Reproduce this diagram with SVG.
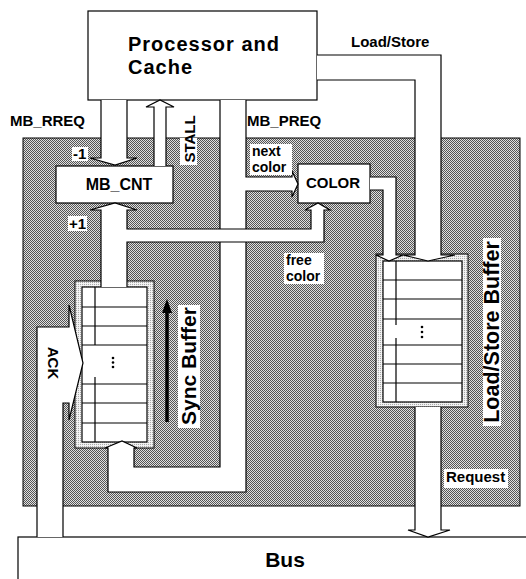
<svg xmlns="http://www.w3.org/2000/svg" width="526" height="579" viewBox="0 0 526 579">
<defs>
<pattern id="shade" width="2" height="2" patternUnits="userSpaceOnUse"><rect width="2" height="2" fill="#e0e0e0"/><rect width="1" height="1" fill="#555"/><rect x="1" y="1" width="1" height="1" fill="#555"/></pattern>
<pattern id="light" width="2" height="2" patternUnits="userSpaceOnUse"><rect width="2" height="2" fill="#f2f2f2"/><rect width="1" height="1" fill="#a8a8a8"/></pattern>
<style>
.box{fill:#fff;stroke:#000;stroke-width:1.2}
.ch{fill:#fff;stroke:#000;stroke-width:1.2;stroke-linejoin:miter}
.ln{fill:none;stroke:#000;stroke-width:1.2}
.frame{fill:url(#light);stroke:#000;stroke-width:1}
.t{font-family:"Liberation Sans",Arial,Helvetica,sans-serif;font-weight:bold;fill:#000}
.s{font-size:15px}
.m{font-size:14px}
.bg{fill:#fff}
.dot{fill:#000}
</style>
</defs>
<rect width="526" height="579" fill="#fff"/>
<g id="region"><rect x="23" y="138" width="497" height="368" fill="url(#shade)" stroke="#000" stroke-width="1"/></g>

<g id="processor"><rect class="box" x="88" y="11" width="229" height="89"/><text class="t" x="128" y="51" font-size="20" letter-spacing="1">Processor and</text><text class="t" x="128" y="74" font-size="20" letter-spacing="1">Cache</text></g>

<g id="bus"><rect class="box" x="18" y="537" width="530" height="60"/><text class="t" x="285" y="567" font-size="21" text-anchor="middle">Bus</text></g>

<g id="mb_cnt"><rect class="box" x="56" y="166" width="117" height="37"/><text class="t" x="119" y="190" font-size="16" text-anchor="middle">MB_CNT</text></g>

<g id="color"><rect class="box" x="298" y="164" width="72" height="39"/><text class="t s" x="333" y="188" text-anchor="middle">COLOR</text></g>

<g id="sync_buffer">
<rect class="frame" x="75" y="281" width="79" height="167"/>
<rect class="box" x="82" y="287" width="65" height="155"/>
<path class="ln" d="M82,307H147M82,326H147M82,345H147M82,384H147M82,403H147M82,423H147M95,287V345M95,377V442"/>
<circle class="dot" cx="113" cy="358" r="1.3"/><circle class="dot" cx="113" cy="362.5" r="1.3"/><circle class="dot" cx="113" cy="367" r="1.3"/>
<rect class="bg" x="178" y="305" width="22" height="123"/>
<text class="t" transform="translate(196,366) rotate(-90)" font-size="21" text-anchor="middle">Sync Buffer</text>
<path d="M167,422V310" stroke="#000" stroke-width="3.5" fill="none"/>
<polygon points="162,313 172,313 167,299" fill="#000"/>
</g>

<g id="ls_buffer">
<rect class="frame" x="376" y="254" width="92" height="153"/>
<rect class="box" x="383" y="261" width="79" height="141"/>
<path class="ln" d="M383,280H462M383,299H462M383,319H462M383,345H462M383,364H462M383,383H462M396,261V325M396,338V402"/>
<circle class="dot" cx="422" cy="327" r="1.3"/><circle class="dot" cx="422" cy="332" r="1.3"/><circle class="dot" cx="422" cy="337" r="1.3"/>
<rect class="bg" x="483" y="238" width="18" height="188"/>
<text class="t" transform="translate(499,332) rotate(-90)" font-size="21.5" text-anchor="middle">Load/Store Buffer</text>
</g>

<g id="connectors">
<path class="ch" d="M317,55 L441,55 L441,255 L455,255 L428,261 L403,255 L415,255 L415,80 L317,80"/>
<path class="ch" d="M415,407 L415,530 L408,530 L428,537 L450,530 L441,530 L441,407"/>
<path class="ch" d="M370,177 L396,177 L396,255 L403,255 L389,261 L376,255 L383,255 L383,190 L370,190"/>
<path class="ch" d="M220,100 L220,467 L134,467 L134,448 L137,448 L122,441 L105,448 L108,448 L108,492 L246,492 L246,191 L292,191 L292,197 L298,184 L292,171 L292,177 L246,177 L246,100"/>
<path class="ch" d="M101,287 L101,210 L90,210 L115,203 L137,210 L127,210 L127,229 L311,229 L311,210 L305,210 L318,203 L330,210 L324,210 L324,242 L127,242 L127,287"/>
<path class="ch" d="M101,100 L101,158 L90,158 L115,165 L137,158 L127,158 L127,100"/>
<path class="ch" d="M154,166 L154,107 L146,107 L160,100 L174,107 L166,107 L166,166"/>
<path class="ch" d="M37,537 L37,327 L69,327 L69,305 L83,363 L69,420 L69,403 L63,403 L63,537"/>
</g>

<g id="labels">
<text class="t s" x="10" y="126">MB_RREQ</text>
<text class="t s" x="247" y="126">MB_PREQ</text>
<text class="t s" x="351" y="47">Load/Store</text>
<rect class="bg" x="72" y="147" width="16" height="14"/>
<text class="t s" x="73" y="159">-1</text>
<rect class="bg" x="68" y="216" width="19" height="15"/>
<text class="t s" x="69" y="229">+1</text>
<rect class="bg" x="180" y="138" width="17" height="27"/>
<text class="t s" transform="translate(195,139) rotate(-90)" text-anchor="middle">STALL</text>
<rect class="bg" x="250" y="144" width="42" height="31"/>
<text class="t m" x="252" y="156">next</text>
<text class="t m" x="252" y="172">color</text>
<rect class="bg" x="284" y="253" width="40" height="31"/>
<text class="t m" x="286" y="265">free</text>
<text class="t m" x="286" y="281">color</text>
<rect class="bg" x="444" y="469" width="64" height="19"/>
<text class="t s" x="446" y="482">Request</text>
<text class="t s" transform="translate(48,363) rotate(90)" text-anchor="middle">ACK</text>
</g>
</svg>
